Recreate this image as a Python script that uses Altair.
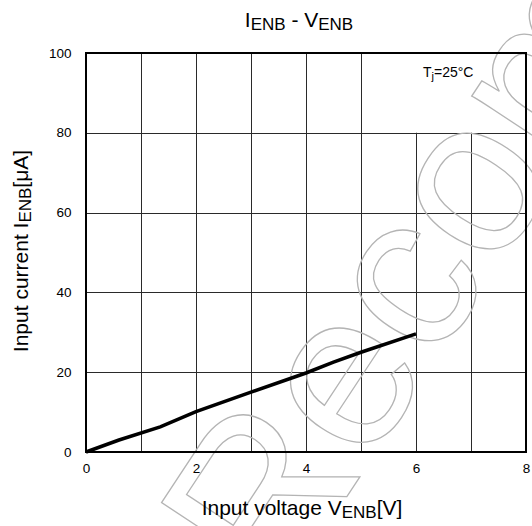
import altair as alt
import pandas as pd

# Measured enable-pin current vs. enable voltage at Tj = 25 °C
volt = [0.0, 0.6, 1.35, 2.0, 3.0, 4.0, 4.5, 5.0, 6.0]
curr = [0.0, 3.0, 6.3, 10.1, 15.0, 19.8, 22.5, 25.0, 29.6]

x_grid = list(range(0, 9))          # grid every 1 V, labels every 2 V
y_grid = list(range(0, 101, 10))    # grid every 10 uA, labels every 20 uA
x_domain = [0, 8]
y_domain = [0, 100]

# corner box that holds the temperature note (grid is hidden behind it)
note_box = pd.DataFrame({"x": [6], "x2": [8], "y": [80], "y2": [100]})
frame = pd.DataFrame({"x": [x_domain[0]], "x2": [x_domain[1]],
                      "y": [y_domain[0]], "y2": [y_domain[1]]})

PLOT_W, PLOT_H = 440, 399
FONT = "Liberation Sans"

# Arial/Liberation Sans advance widths (per 1000 em) for laying out
# text runs that mix normal and subscript sizes
ADV = {"I": 278, "n": 556, "p": 556, "u": 556, "t": 278, " ": 278, "v": 500,
       "o": 556, "l": 222, "a": 556, "g": 556, "e": 556, "V": 667, "E": 667,
       "N": 722, "B": 667, "[": 278, "]": 278, "c": 500, "r": 333, "μ": 576,
       "A": 667, "-": 333, "T": 611, "j": 222, "=": 584, "2": 556, "5": 556,
       "°": 400, "C": 722}


def run_width(s, size):
    return sum(ADV.get(ch, 556) for ch in s) * size / 1000.0


def lay_out(pieces, anchor, base, align="center", vertical=False):
    total = sum(run_width(t, s) for t, s, _ in pieces)
    if align == "center":
        pos = anchor + total / 2 if vertical else anchor - total / 2
    else:
        pos = anchor
    rows = []
    for text, size, shift in pieces:
        w = run_width(text, size)
        body = text.lstrip(" ")
        lead = run_width(text[: len(text) - len(body)], size)
        if vertical:
            rows.append(dict(px=base + shift, py=pos - lead, txt=body, fs=size, ang=270))
            pos -= w
        else:
            rows.append(dict(px=pos + lead, py=base + shift, txt=body, fs=size, ang=0))
            pos += w
    return rows


MAIN, SUB, DROP = 21, 17, 3
rows = []
rows += lay_out([("I", MAIN, 0), ("ENB", SUB, DROP), (" - V", MAIN, 0), ("ENB", SUB, DROP)],
                anchor=213, base=-26)
rows += lay_out([("Input voltage V", MAIN, 0), ("ENB", SUB, DROP), ("[V]", MAIN, 0)],
                anchor=216, base=462)
rows += lay_out([("Input current I", MAIN, 0), ("ENB", SUB, DROP), ("[μA]", MAIN, 0)],
                anchor=198, base=-58, vertical=True)
rows += lay_out([("T", 14, 0), ("j", 11, 3), ("=25°C", 14, 0)],
                anchor=337, base=24, align="left")
labels = pd.DataFrame(rows)

curve = pd.DataFrame({"v": volt, "i": curr})

x_scale = alt.Scale(domain=x_domain, nice=False, zero=False)
y_scale = alt.Scale(domain=y_domain, nice=False, zero=False)

x_axis = alt.Axis(values=x_grid, labelExpr="datum.value % 2 == 0 ? datum.label : ''",
                  grid=True, domain=False, ticks=False, title=None,
                  labelPadding=9, labelFontSize=13.5, labelFont=FONT,
                  labelColor="black", gridColor="#2a2a2a", gridWidth=1,
                  labelFlush=False)
y_axis = alt.Axis(values=y_grid, labelExpr="datum.value % 20 == 0 ? datum.label : ''",
                  grid=True, domain=False, ticks=False, title=None,
                  labelPadding=15, labelFontSize=13.5, labelFont=FONT,
                  labelColor="black", gridColor="#2a2a2a", gridWidth=1,
                  labelFlush=False)

box = alt.Chart(note_box).mark_rect(color="white").encode(
    x=alt.X("x:Q", scale=x_scale, axis=x_axis),
    x2="x2:Q",
    y=alt.Y("y:Q", scale=y_scale, axis=y_axis),
    y2="y2:Q",
)

watermark = alt.Chart(pd.DataFrame({"w": ["Recommended"]})).mark_text(
    align="left", baseline="alphabetic", font=FONT, fontSize=220, angle=303.4,
    fillOpacity=0, stroke="#b4b4b4", strokeWidth=1.3,
).encode(x=alt.value(192), y=alt.value(548), text="w:N")

line = alt.Chart(curve).mark_line(color="black", strokeWidth=3.5).encode(
    x=alt.X("v:Q", scale=x_scale),
    y=alt.Y("i:Q", scale=y_scale),
)

border = alt.Chart(frame).mark_rect(fillOpacity=0, stroke="black", strokeWidth=2).encode(
    x=alt.X("x:Q", scale=x_scale), x2="x2:Q",
    y=alt.Y("y:Q", scale=y_scale), y2="y2:Q",
)

text = alt.Chart(labels).mark_text(
    align="left", baseline="alphabetic", font=FONT, color="black",
).encode(
    x=alt.X("px:Q", scale=None, axis=None),
    y=alt.Y("py:Q", scale=None, axis=None),
    text="txt:N",
    size=alt.Size("fs:Q", scale=None, legend=None),
    angle=alt.Angle("ang:Q", scale=None),
)

chart = alt.layer(box, watermark, line, border, text).properties(
    width=PLOT_W, height=PLOT_H,
    autosize=alt.AutoSizeParams(type="none"),
    padding={"left": 86, "top": 53, "right": 6, "bottom": 74},
    background="white",
).configure_view(stroke=None)

chart.save("out.html", embed_options={"renderer": "svg", "actions": False})
